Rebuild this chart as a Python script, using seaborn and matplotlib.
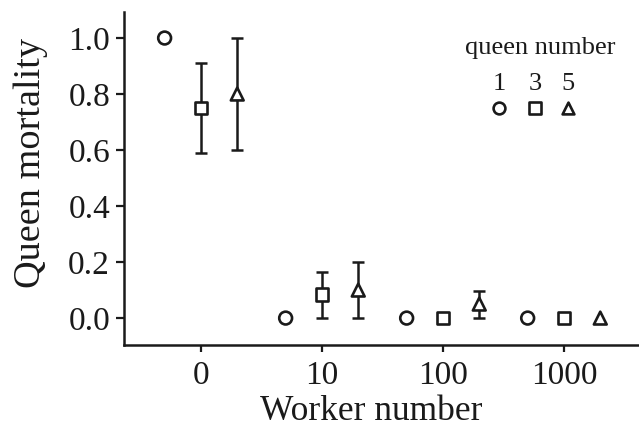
import numpy as np
import pandas as pd
import matplotlib
matplotlib.use("Agg")
import matplotlib.pyplot as plt
import seaborn as sns

# ---- data ----
worker_numbers = ["0", "10", "100", "1000"]
queen_numbers = [1, 3, 5]
mort_q1 = [1.0, 0.0, 0.0, 0.0]
mort_q3 = [0.75, 0.083, 0.0, 0.0]
mort_q5 = [0.80, 0.10, 0.05, 0.0]
lo_q3 = [0.59, 0.0, np.nan, np.nan]
hi_q3 = [0.91, 0.165, np.nan, np.nan]
lo_q5 = [0.60, 0.0, 0.0, np.nan]
hi_q5 = [1.0, 0.20, 0.095, np.nan]

rows = []
for q, m, lo, hi in [(1, mort_q1, [np.nan]*4, [np.nan]*4),
                     (3, mort_q3, lo_q3, hi_q3),
                     (5, mort_q5, lo_q5, hi_q5)]:
    for i, w in enumerate(worker_numbers):
        rows.append(dict(worker=w, queens=q, mortality=m[i], lo=lo[i], hi=hi[i]))
df = pd.DataFrame(rows)

offsets = {1: -0.3, 3: 0.0, 5: 0.3}
df["xpos"] = df["worker"].map({w: i for i, w in enumerate(worker_numbers)}) + df["queens"].map(offsets)

sns.set_theme(style="ticks")
plt.rcParams["font.family"] = ["Liberation Serif", "DejaVu Serif"]

fig = plt.figure(figsize=(6.39, 4.28), dpi=100)
ax = fig.add_axes([0.194, 0.194, 0.806, 0.778])

ink = "#1a1a1a"
markers = {1: "o", 3: "s", 5: "^"}
# error bars
for q in [3, 5]:
    sub = df[(df["queens"] == q) & df["lo"].notna()]
    ax.errorbar(sub["xpos"], sub["mortality"],
                yerr=[sub["mortality"] - sub["lo"], sub["hi"] - sub["mortality"]],
                fmt="none", ecolor=ink, elinewidth=1.8, capsize=4.5, capthick=1.8, zorder=1)

sns.scatterplot(data=df, x="xpos", y="mortality", style="queens", markers=markers,
                s=85, facecolor="white", edgecolor=ink, linewidth=1.9,
                legend=False, ax=ax, zorder=3)

ax.set_xlim(-0.636, 3.62)
ax.set_ylim(-0.096, 1.093)
ax.set_xticks(range(len(worker_numbers)))
ax.set_xticklabels(worker_numbers)
ax.set_yticks([0.0, 0.2, 0.4, 0.6, 0.8, 1.0])
ax.set_yticklabels(["0.0", "0.2", "0.4", "0.6", "0.8", "1.0"])
ax.tick_params(axis="both", labelsize=24, color=ink, labelcolor=ink, width=1.6)
ax.tick_params(axis="y", length=6, pad=4)
ax.tick_params(axis="x", length=5, pad=6)
ax.set_xlabel("Worker number", fontsize=25.5, color=ink)
ax.set_ylabel("Queen mortality", fontsize=27.5, color=ink)
ax.xaxis.set_label_coords(0.48, -0.15)
ax.yaxis.set_label_coords(-0.147, 0.547)
for sp in ["top", "right"]:
    ax.spines[sp].set_visible(False)
for sp in ["left", "bottom"]:
    ax.spines[sp].set_linewidth(1.8)
    ax.spines[sp].set_color(ink)

# legend block
ax.text(0.808, 0.892, "queen number", transform=ax.transAxes, ha="center", va="center",
        fontsize=19, color=ink)
lx = [0.728, 0.798, 0.862]
for x, q in zip(lx, queen_numbers):
    ax.text(x, 0.785, str(q), transform=ax.transAxes, ha="center", va="center",
            fontsize=19, color=ink)
    ax.scatter([x], [0.713], transform=ax.transAxes, marker=markers[q], s=72,
               facecolor="white", edgecolor=ink, linewidth=1.9, clip_on=False)

fig.savefig("out.png", dpi=100)
